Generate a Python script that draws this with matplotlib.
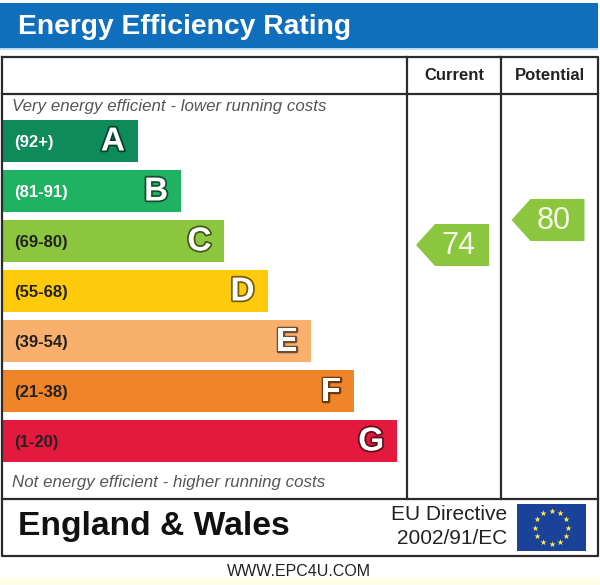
import matplotlib
matplotlib.use("Agg")
import matplotlib.pyplot as plt
from matplotlib.patches import Rectangle, Polygon
import matplotlib.patheffects as pe
import numpy as np

plt.rcParams['font.family'] = ['Liberation Sans', 'DejaVu Sans']

# ---- data ----
title = "Energy Efficiency Rating"
bands = ["A", "B", "C", "D", "E", "F", "G"]
band_ranges = ["(92+)", "(81-91)", "(69-80)", "(55-68)", "(39-54)", "(21-38)", "(1-20)"]
band_lo = [92, 81, 69, 55, 39, 21, 1]
band_hi = [100, 91, 80, 68, 54, 38, 20]
band_colors = ["#0f8a5b", "#1fb262", "#8cc63f", "#fecb0c", "#f8b06c", "#ef8429", "#e4193e"]
label_colors = ["white", "white", "#222222", "#222222", "#222222", "#222222", "#222222"]
columns = ["Current", "Potential"]
ratings = [74, 80]
top_note = "Very energy efficient - lower running costs"
bottom_note = "Not energy efficient - higher running costs"
region = "England & Wales"
directive = ["EU Directive", "2002/91/EC"]
footer = "WWW.EPC4U.COM"

fig = plt.figure(figsize=(6.0, 5.85), dpi=100)
ax = fig.add_axes([0, 0, 1, 1])
ax.set_xlim(0, 600)
ax.set_ylim(585, 0)
ax.axis("off")

# faint footer tint
ax.add_patch(Rectangle((0, 577), 600, 8, color="#fdfdea", lw=0, zorder=0))

# title bar
ax.add_patch(Rectangle((0, 3), 598, 45, color="#0f6fbd", lw=0))
ax.add_patch(Rectangle((0, 48), 598, 2, color="#b7dcf0", lw=0))
ax.text(18, 27, title, color="white", fontsize=20.3, fontweight="bold",
        ha="left", va="center")

# frame
lc = "#2b2b2b"
lw = 1.6
box_l, box_r, box_t, box_m, box_b = 2, 598, 57, 499, 556
col_x = [407, 501, 598]
head_b = 94
ax.plot([box_l, box_r, box_r, box_l, box_l], [box_t, box_t, box_b, box_b, box_t], color=lc, lw=lw)
ax.plot([box_l, box_r], [head_b, head_b], color=lc, lw=lw)
ax.plot([box_l, box_r], [box_m, box_m], color=lc, lw=lw)
for x in col_x[:2]:
    ax.plot([x, x], [box_t, box_m], color=lc, lw=lw)

# headers
for i, name in enumerate(columns):
    ax.text((col_x[i] + col_x[i + 1]) / 2, 76, name, fontsize=12, fontweight="bold",
            ha="center", va="center", color="#222222")

# notes
ax.text(12, 107, top_note, fontsize=12.2, style="italic", color="#555555", ha="left", va="center")
ax.text(12, 482, bottom_note, fontsize=12.2, style="italic", color="#555555", ha="left", va="center")

# bands
bar_x0 = 3
bar_top0 = 120
pitch = 50
bar_h = 42
base_w = 135
step_w = 43.2
for i, (b, r, c, tc) in enumerate(zip(bands, band_ranges, band_colors, label_colors)):
    top = bar_top0 + i * pitch
    w = base_w + step_w * i
    ax.add_patch(Rectangle((bar_x0, top), w, bar_h, color=c, lw=0))
    ax.text(14, top + bar_h / 2 + 1, r, fontsize=12, fontweight="bold", color=tc,
            ha="left", va="center")
    dark = tuple(np.array(matplotlib.colors.to_rgb(c)) * 0.45)
    ax.text(bar_x0 + w - 13, top + bar_h / 2 + 1, b, fontsize=24, fontweight="bold",
            color="white", ha="right", va="center",
            path_effects=[pe.withStroke(linewidth=2.5, foreground=dark)])

# rating arrows
def band_of(v):
    for k in range(len(bands)):
        if band_lo[k] <= v <= band_hi[k]:
            return k
    return len(bands) - 1

arrow_w = 73
for j, v in enumerate(ratings):
    k = band_of(v)
    yc = bar_top0 + k * pitch + (band_hi[k] - v) / (band_hi[k] - band_lo[k] + 1) * pitch
    x0 = (col_x[j] + col_x[j + 1]) / 2 - 38
    x1 = x0 + arrow_w
    tip = 19
    h = bar_h
    poly = Polygon([(x0, yc), (x0 + tip, yc - h / 2), (x1, yc - h / 2),
                    (x1, yc + h / 2), (x0 + tip, yc + h / 2)], closed=True,
                   color=band_colors[k], lw=0)
    ax.add_patch(poly)
    ax.text((x0 + tip + x1) / 2 - 4, yc + 1, str(v), fontsize=22, color="#f4fbe8",
            ha="center", va="center")

# bottom section
ax.text(18, 527, region, fontsize=24.2, fontweight="bold", color="#111111",
        ha="left", va="center")
ax.text(507, 515, directive[0], fontsize=15, color="#222222", ha="right", va="center")
ax.text(507, 539, directive[1], fontsize=15, color="#222222", ha="right", va="center")

# EU flag
fx0, fy0, fw, fh = 517, 504, 69, 47
ax.add_patch(Rectangle((fx0, fy0), fw, fh, color="#1a4299", lw=0))
ang = np.linspace(0, 2 * np.pi, 12, endpoint=False)
cx, cy, rad = fx0 + fw / 2, fy0 + fh / 2, 16.5
ax.scatter(cx + rad * np.cos(ang), cy + rad * np.sin(ang), marker="*", s=22,
           color="#ffe94d", lw=0, zorder=5)

ax.text(299, 571, footer, fontsize=11.5, color="#222222", ha="center", va="center")

fig.savefig("out.png", dpi=100)
